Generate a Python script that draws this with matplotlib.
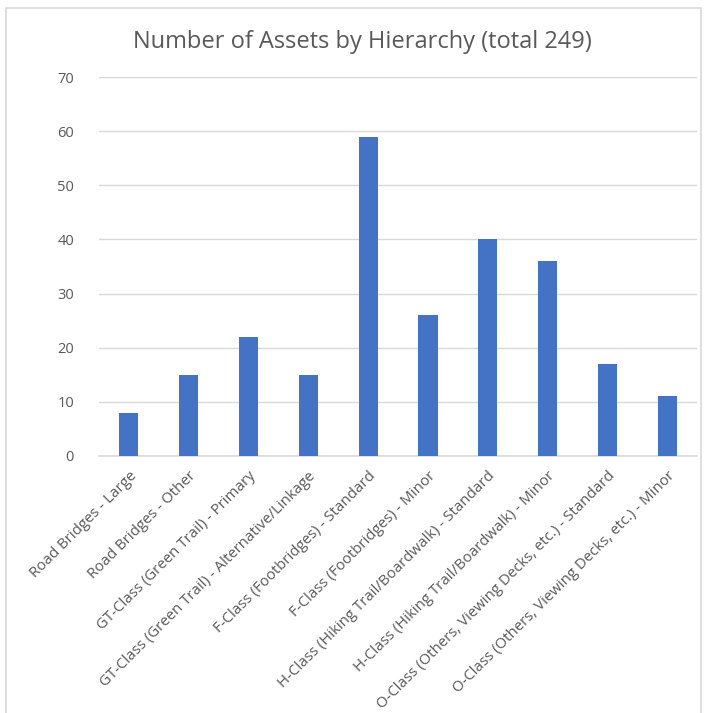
import matplotlib.pyplot as plt
import matplotlib.patches as patches
import numpy as np

categories = [
    'Road Bridges - Large',
    'Road Bridges - Other',
    'GT-Class (Green Trail) - Primary',
    'GT-Class (Green Trail) - Alternative/Linkage',
    'F-Class (Footbridges) - Standard',
    'F-Class (Footbridges) - Minor',
    'H-Class (Hiking Trail/Boardwalk) - Standard',
    'H-Class (Hiking Trail/Boardwalk) - Minor',
    'O-Class (Others, Viewing Decks, etc.) - Standard',
    'O-Class (Others, Viewing Decks, etc.) - Minor',
]
counts = [8, 15, 22, 15, 59, 26, 40, 36, 17, 11]
y_ticks = [0, 10, 20, 30, 40, 50, 60, 70]

plt.rcParams['font.family'] = ['Open Sans', 'DejaVu Sans']
text_gray = '#595959'
grid_gray = '#D9D9D9'

fig = plt.figure(figsize=(7.07, 7.13), dpi=100)
fig.patches.append(patches.Rectangle(
    (6 / 707, -0.01), 695 / 707, 1 - 8 / 713 + 0.01,
    transform=fig.transFigure, fill=False, edgecolor=grid_gray, linewidth=1.2))

ax = fig.add_axes([0.140, 0.3605, 0.846, 0.5315])
x = np.arange(len(categories))
ax.bar(x, counts, width=0.32, color='#4472C4', zorder=3)

ax.set_xlim(-0.5, len(categories) - 0.5)
ax.set_ylim(0, 70)
ax.set_yticks(y_ticks)
ax.yaxis.grid(True, color=grid_gray, linewidth=1)
ax.set_axisbelow(True)
for side in ['top', 'right', 'left']:
    ax.spines[side].set_visible(False)
ax.spines['bottom'].set_color(grid_gray)
ax.spines['bottom'].set_linewidth(1.2)
ax.tick_params(axis='both', length=0, colors=text_gray, labelsize=10.5)
ax.tick_params(axis='y', pad=18)
ax.set_xticks(x)
ax.set_xticklabels(categories, rotation=45, ha='right', rotation_mode='anchor',
                   color=text_gray, fontsize=10.8)
ax.tick_params(axis='x', pad=9)

fig.text(0.512, 0.941, 'Number of Assets by Hierarchy (total 249)',
         ha='center', va='center', fontsize=17, color=text_gray)

fig.savefig('out.png', dpi=100)
